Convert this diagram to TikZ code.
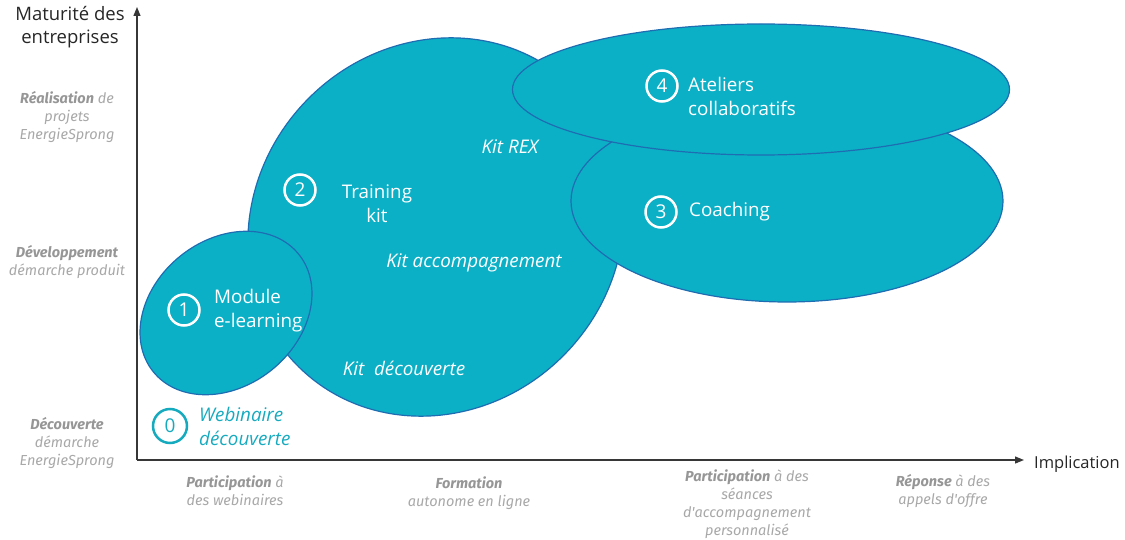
\documentclass[tikz,border=0pt]{standalone}
\usepackage{fontspec}
\setmainfont{Open Sans}
\newfontfamily\grayfont{Fira Sans}
\usetikzlibrary{shapes.geometric,arrows.meta}
\definecolor{tealfill}{RGB}{12,176,198}
\definecolor{tealedge}{RGB}{30,108,178}
\definecolor{labelgray}{RGB}{168,168,168}
\definecolor{labeldark}{RGB}{150,150,150}
\definecolor{tealtext}{RGB}{22,170,190}
\definecolor{axisgray}{RGB}{55,55,55}
\begin{document}
\begin{tikzpicture}[x=1pt,y=-1pt,
  blob/.style={ellipse,draw=tealedge,fill=tealfill,line width=1.2pt,inner sep=0pt},
  num/.style={circle,draw=white,line width=2.5pt,minimum size=31pt,inner sep=0pt,text=white,font=\fontsize{19}{19}\selectfont},
  wtext/.style={text=white,font=\fontsize{18.8}{24}\selectfont,inner sep=0pt},
  witext/.style={text=white,font=\fontsize{18.8}{24}\selectfont\itshape,inner sep=0pt},
  glabel/.style={text=labelgray,align=center,font=\grayfont\itshape\fontsize{14.5}{18}\selectfont,inner sep=0pt},
  axislabel/.style={text=black!85,align=center,font=\fontsize{18.5}{23}\selectfont,inner sep=0pt},
  axisline/.style={draw=axisgray,line width=1.2pt,-{Triangle[length=9pt,width=7pt]}}
]
\useasboundingbox (0,0) rectangle (1125,540);

% blobs
\node[blob,minimum width=392pt,minimum height=362pt,rotate=47] (e2) at (436,227) {};
\node[blob,minimum width=187pt,minimum height=146pt,rotate=39] (e1) at (226,313) {};
\node[blob,minimum width=432pt,minimum height=202pt] (e3) at (787,201) {};
\node[blob,minimum width=497pt,minimum height=131pt] (e4) at (761,89.5) {};

% axes
\coordinate (origin) at (137,460);
\coordinate (ytip) at (137,7);
\coordinate (xtip) at (1024,460);
\draw[axisline] (origin) -- (ytip);
\draw[axisline] (origin) -- (xtip);
\node[axislabel] (ylab) at (70,27) {Maturité des\\entreprises};
\node[axislabel,anchor=west,font=\fontsize{16.5}{20}\selectfont] (xlab) at (1034,464) {Implication};

% numbered items
\node[num,draw=tealtext,text=tealtext,minimum size=34pt] (n0) at (170,426) {0};
\node[witext,text=tealtext,anchor=west,align=left] (t0) at (199,426) {Webinaire\\découverte};

\node[num] (n1) at (184,310) {1};
\node[wtext,anchor=west,align=left] (t1) at (214,311) {Module\\e-learning};

\node[num] (n2) at (300,190) {2};
\node[wtext,align=center] (t2) at (377,204) {Training\\kit};
\node[witext] (k1) at (510,147) {Kit REX};
\node[witext] (k2) at (474,263) {Kit accompagnement};
\node[witext] (k3) at (404,368) {Kit\ \ découverte};

\node[num] (n3) at (661,212) {3};
\node[wtext,anchor=west] (t3) at (689,212) {Coaching};

\node[num] (n4) at (662,86) {4};
\node[wtext,anchor=west,align=left] (t4) at (688,96) {Ateliers\\collaboratifs};

% left gray labels
\node[glabel] (g1) at (67,117) {{\color{labeldark}\bfseries Réalisation} de\\projets\\EnergieSprong};
\node[glabel] (g2) at (67,262) {{\color{labeldark}\bfseries Développement}\\démarche produit};
\node[glabel] (g3) at (67,443) {{\color{labeldark}\bfseries Découverte}\\démarche\\EnergieSprong};

% bottom gray labels
\node[glabel] (b1) at (235,491) {{\color{labeldark}\bfseries Participation} à\\des webinaires};
\node[glabel] (b2) at (469,493) {{\color{labeldark}\bfseries Formation}\\autonome en ligne};
\node[glabel] (b3) at (747,504) {{\color{labeldark}\bfseries Participation} à des\\séances\\d'accompagnement\\personnalisé};
\node[glabel] (b4) at (943,491) {{\color{labeldark}\bfseries Réponse} à des\\appels d'offre};
\end{tikzpicture}
\end{document}
